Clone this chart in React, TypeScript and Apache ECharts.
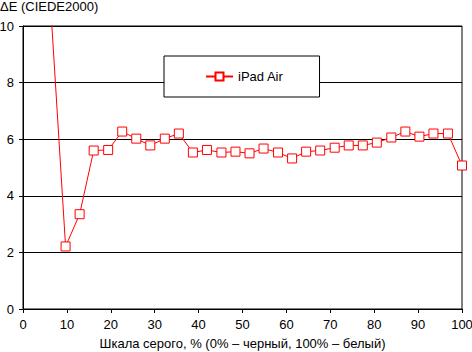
import React, { useEffect, useRef } from "react";
import * as echarts from "echarts";

const grayLevels = [
  0, 3.2, 6.5, 9.7, 12.9, 16.1, 19.4, 22.6, 25.8, 29.0, 32.3, 35.5, 38.7, 41.9, 45.2, 48.4,
  51.6, 54.8, 58.1, 61.3, 64.5, 67.7, 71.0, 74.2, 77.4, 80.6, 83.9, 87.1, 90.3, 93.5, 96.8, 100,
];
const deltaE: (number | null)[] = [
  null, null, 10.2, 2.21, 3.35, 5.6, 5.62, 6.27, 6.02, 5.78, 6.02, 6.2, 5.53, 5.62, 5.53, 5.56,
  5.5, 5.67, 5.53, 5.32, 5.56, 5.6, 5.7, 5.78, 5.78, 5.88, 6.06, 6.27, 6.09, 6.2, 6.2, 5.07,
];
const seriesName = "iPad Air";
const yTitle = "ΔE (CIEDE2000)";
const xTitle = "Шкала серого, % (0% – черный, 100% – белый)";

const FONT = "'Liberation Sans', Arial, sans-serif";

export default function App() {
  const ref = useRef<HTMLDivElement>(null);
  useEffect(() => {
    if (!ref.current) return;
    const chart = echarts.init(ref.current, undefined, { renderer: "svg" });
    const data = grayLevels.map((x, i) => [x, deltaE[i]]);
    chart.setOption({
      animation: false,
      backgroundColor: "#ffffff",
      textStyle: { fontFamily: FONT },
      title: {
        text: yTitle,
        left: -5,
        top: -5,
        textStyle: { fontFamily: FONT, fontSize: 13, fontWeight: "normal", color: "#000" },
      },
      grid: {
        left: 23,
        right: 10,
        top: 26,
        bottom: 43,
        containLabel: false,
        outerBoundsMode: "none",
        show: true,
        borderColor: "#000",
        borderWidth: 1,
        backgroundColor: "transparent",
      },
      legend: {
        left: 164,
        top: 56,
        backgroundColor: "#fff",
        borderColor: "#000",
        borderWidth: 1,
        borderRadius: 0,
        padding: [14, 36, 14, 41],
        itemWidth: 27,
        itemHeight: 10,
        itemGap: 5,
        textStyle: { fontFamily: FONT, fontSize: 13, color: "#000" },
        data: [seriesName],
      },
      xAxis: {
        type: "value",
        min: 0,
        max: 100,
        interval: 10,
        name: xTitle,
        nameLocation: "middle",
        nameGap: 28,
        nameTextStyle: { fontFamily: FONT, fontSize: 13, color: "#000" },
        axisLine: { show: true, lineStyle: { color: "#000", width: 1 } },
        axisTick: { show: true, length: 4, lineStyle: { color: "#000" } },
        axisLabel: { fontFamily: FONT, fontSize: 13, color: "#000", margin: 9 },
        splitLine: { show: false },
      },
      yAxis: {
        type: "value",
        min: 0,
        max: 10,
        interval: 2,
        axisLine: { show: true, lineStyle: { color: "#000", width: 1 } },
        axisTick: { show: true, length: 4, lineStyle: { color: "#000" } },
        axisLabel: { fontFamily: FONT, fontSize: 13, color: "#000", margin: 9 },
        splitLine: { show: true, lineStyle: { color: "#000", width: 1, type: "solid" } },
      },
      series: [
        {
          name: seriesName,
          type: "line",
          data,
          clip: true,
          symbol: "rect",
          symbolSize: 9,
          showAllSymbol: true,
          lineStyle: { color: "#ff0000", width: 1 },
          itemStyle: { color: "#ffffff", borderColor: "#ff0000", borderWidth: 1 },
          emphasis: { disabled: true },
        },
      ],
    });
    return () => chart.dispose();
  }, []);
  return (
    <div
      ref={ref}
      style={{ position: "fixed", left: 0, top: 0, width: 472, height: 352, background: "#fff" }}
    />
  );
}
